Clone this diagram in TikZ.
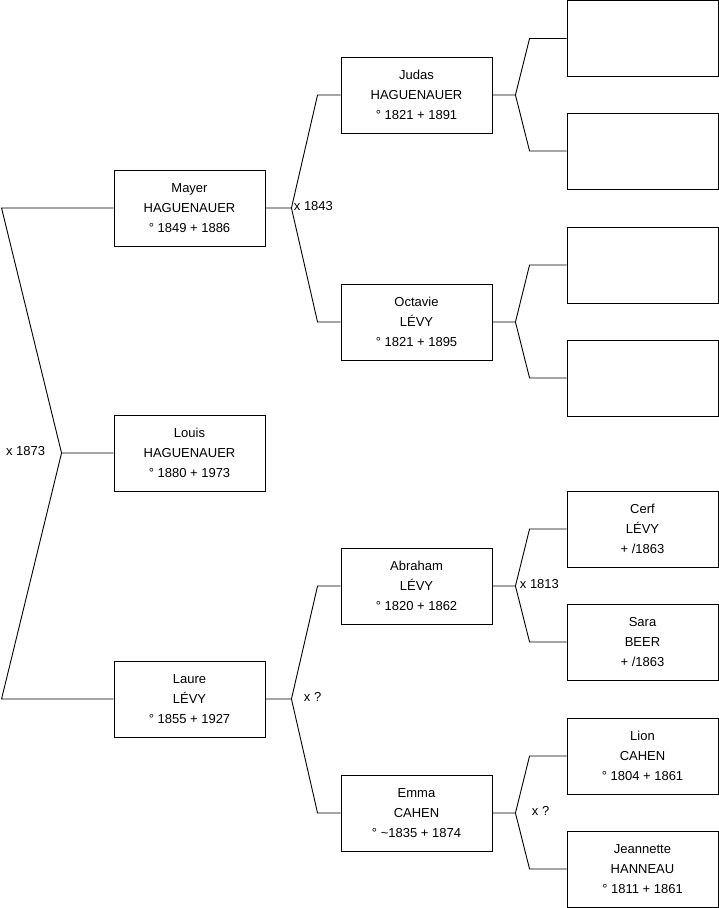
\documentclass[tikz,border=0pt]{standalone}
\usepackage{fontspec}
\setmainfont{Liberation Sans}
\usepackage{tikz}

\begin{document}
\begin{tikzpicture}[x=1pt,y=-1pt,line width=0.9pt,
  person/.style={draw,rectangle,minimum width=151pt,minimum height=76pt,inner sep=0pt,align=center,font=\fontsize{13}{20}\selectfont},
  wed/.style={font=\fontsize{13}{16}\selectfont,inner sep=0pt}]
\useasboundingbox (0,0) rectangle (719,908);
\def\ca{189.5}\def\cb{416.5}\def\cc{642.5}
\node[person] (mayer) at (\ca,208) {Mayer\\HAGUENAUER\\° 1849 + 1886};
\node[person] (louis) at (\ca,453) {Louis\\HAGUENAUER\\° 1880 + 1973};
\node[person] (laure) at (\ca,699) {Laure\\LÉVY\\° 1855 + 1927};
\node[person] (judas) at (\cb,95) {Judas\\HAGUENAUER\\° 1821 + 1891};
\node[person] (octavie) at (\cb,322) {Octavie\\LÉVY\\° 1821 + 1895};
\node[person] (abraham) at (\cb,586) {Abraham\\LÉVY\\° 1820 + 1862};
\node[person] (emma) at (\cb,813) {Emma\\CAHEN\\° \textasciitilde1835 + 1874};
\node[person] (e1) at (\cc,38.5) {};
\node[person] (e2) at (\cc,151) {};
\node[person] (e3) at (\cc,265) {};
\node[person] (e4) at (\cc,378) {};
\node[person] (cerf) at (\cc,529) {Cerf\\LÉVY\\+ /1863};
\node[person] (sara) at (\cc,642) {Sara\\BEER\\+ /1863};
\node[person] (lion) at (\cc,756) {Lion\\CAHEN\\° 1804 + 1861};
\node[person] (jeannette) at (\cc,869) {Jeannette\\HANNEAU\\° 1811 + 1861};
\draw (louis.west) -- ++(-52,0) coordinate (flouis) -- ([xshift=-112pt]mayer.west) -- (mayer.west)
  (flouis) -- ([xshift=-112pt]laure.west) -- (laure.west);
\node[wed,anchor=east] (wlouis) at ([xshift=-16pt,yshift=2pt]flouis) {x 1873};
\foreach \c/\p/\q/\f/\g/\t/\s in {mayer/judas/octavie/26/23/{x 1843}/2,
    laure/abraham/emma/26/23/{x ?}/12, judas/e1/e2/23/37/{}/0, octavie/e3/e4/23/37/{}/0,
    abraham/cerf/sara/23/37/{x 1813}/4, emma/lion/jeannette/23/37/{x ?}/16}{
  \draw (\c.east) -- ++(\f,0) coordinate (f\c) -- ([xshift=-\g pt]\p.west) -- (\p.west)
    (f\c) -- ([xshift=-\g pt]\q.west) -- (\q.west);
  \node[wed,anchor=west] (w\c) at ([xshift=\s pt,yshift=2pt]f\c) {\t};
}
\end{tikzpicture}
\end{document}
